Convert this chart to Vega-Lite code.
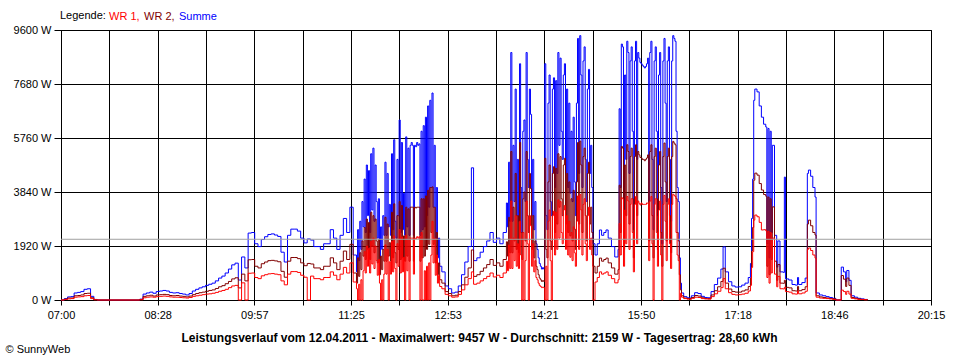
{
"$schema": "https://vega.github.io/schema/vega-lite/v6.json",
"width": 870, "height": 270,
"autosize": {"type": "none"},
"padding": {"left": 61, "top": 30, "right": 29, "bottom": 60},
"background": "white",
"config": {"font": "Liberation Sans", "view": {"stroke": "#000", "strokeWidth": 1}},
"data": {"values": [
{"minute":420,"summe":0,"wr2":0,"wr1":0},
{"minute":423,"summe":50,"wr2":30,"wr1":20},
{"minute":426,"summe":110,"wr2":70,"wr1":40},
{"minute":429,"summe":120,"wr2":70,"wr1":50},
{"minute":432,"summe":250,"wr2":150,"wr1":100},
{"minute":435,"summe":270,"wr2":160,"wr1":110},
{"minute":438,"summe":300,"wr2":180,"wr1":120},
{"minute":441,"summe":380,"wr2":230,"wr1":150},
{"minute":444,"summe":400,"wr2":240,"wr1":160},
{"minute":447,"summe":130,"wr2":80,"wr1":50},
{"minute":450,"summe":20,"wr2":10,"wr1":10},
{"minute":453,"summe":0,"wr2":0,"wr1":0},
{"minute":492,"summe":30,"wr2":20,"wr1":10},
{"minute":495,"summe":210,"wr2":130,"wr1":80},
{"minute":498,"summe":250,"wr2":150,"wr1":100},
{"minute":501,"summe":280,"wr2":170,"wr1":110},
{"minute":504,"summe":240,"wr2":140,"wr1":100},
{"minute":507,"summe":300,"wr2":180,"wr1":120},
{"minute":510,"summe":320,"wr2":190,"wr1":130},
{"minute":513,"summe":340,"wr2":200,"wr1":140},
{"minute":516,"summe":320,"wr2":190,"wr1":130},
{"minute":519,"summe":270,"wr2":160,"wr1":110},
{"minute":522,"summe":250,"wr2":150,"wr1":100},
{"minute":525,"summe":260,"wr2":160,"wr1":100},
{"minute":528,"summe":230,"wr2":140,"wr1":90},
{"minute":531,"summe":210,"wr2":130,"wr1":80},
{"minute":534,"summe":180,"wr2":110,"wr1":70},
{"minute":537,"summe":230,"wr2":140,"wr1":90},
{"minute":540,"summe":320,"wr2":190,"wr1":130},
{"minute":543,"summe":380,"wr2":230,"wr1":150},
{"minute":546,"summe":430,"wr2":260,"wr1":170},
{"minute":549,"summe":470,"wr2":280,"wr1":190},
{"minute":552,"summe":520,"wr2":310,"wr1":210},
{"minute":555,"summe":560,"wr2":340,"wr1":220},
{"minute":558,"summe":600,"wr2":360,"wr1":240},
{"minute":561,"summe":680,"wr2":410,"wr1":270},
{"minute":564,"summe":780,"wr2":470,"wr1":310},
{"minute":567,"summe":850,"wr2":510,"wr1":340},
{"minute":570,"summe":960,"wr2":580,"wr1":380},
{"minute":573,"summe":1100,"wr2":660,"wr1":440},
{"minute":576,"summe":1250,"wr2":750,"wr1":500},
{"minute":579,"summe":1310,"wr2":790,"wr1":520},
{"minute":582,"summe":710,"wr2":430,"wr1":0},
{"minute":585,"summe":1530,"wr2":920,"wr1":610},
{"minute":588,"summe":1140,"wr2":680,"wr1":0},
{"minute":591,"summe":2380,"wr2":1430,"wr1":950},
{"minute":594,"summe":2400,"wr2":1440,"wr1":960},
{"minute":597,"summe":2000,"wr2":1200,"wr1":800},
{"minute":600,"summe":1900,"wr2":1140,"wr1":760},
{"minute":603,"summe":2150,"wr2":1290,"wr1":860},
{"minute":606,"summe":2250,"wr2":1350,"wr1":900},
{"minute":609,"summe":2330,"wr2":1400,"wr1":930},
{"minute":612,"summe":2350,"wr2":1410,"wr1":940},
{"minute":615,"summe":2310,"wr2":1390,"wr1":920},
{"minute":618,"summe":2260,"wr2":1360,"wr1":900},
{"minute":621,"summe":1700,"wr2":1020,"wr1":680},
{"minute":624,"summe":1350,"wr2":810,"wr1":540},
{"minute":627,"summe":2300,"wr2":1380,"wr1":920},
{"minute":630,"summe":2520,"wr2":1510,"wr1":1010},
{"minute":633,"summe":2520,"wr2":1510,"wr1":1010},
{"minute":636,"summe":2450,"wr2":1470,"wr1":980},
{"minute":639,"summe":2200,"wr2":1320,"wr1":880},
{"minute":642,"summe":2030,"wr2":1220,"wr1":810},
{"minute":645,"summe":2170,"wr2":1300,"wr1":0},
{"minute":648,"summe":2130,"wr2":1280,"wr1":850},
{"minute":651,"summe":1900,"wr2":1140,"wr1":760},
{"minute":654,"summe":1900,"wr2":1140,"wr1":760},
{"minute":657,"summe":1800,"wr2":1080,"wr1":720},
{"minute":660,"summe":2000,"wr2":1200,"wr1":800},
{"minute":663,"summe":2000,"wr2":1200,"wr1":800},
{"minute":666,"summe":2500,"wr2":1500,"wr1":1000},
{"minute":669,"summe":2200,"wr2":1320,"wr1":880},
{"minute":672,"summe":1800,"wr2":1080,"wr1":720},
{"minute":675,"summe":2300,"wr2":1380,"wr1":920},
{"minute":678,"summe":2900,"wr2":1740,"wr1":1160},
{"minute":681,"summe":2400,"wr2":1440,"wr1":960},
{"minute":684,"summe":3300,"wr2":1980,"wr1":1320},
{"minute":687,"summe":1600,"wr2":960,"wr1":640},
{"minute":690,"summe":1000,"wr2":600,"wr1":400},
{"minute":691,"summe":2500,"wr2":1500,"wr1":0},
{"minute":692,"summe":1400,"wr2":840,"wr1":560},
{"minute":693,"summe":2800,"wr2":1680,"wr1":0},
{"minute":694,"summe":1800,"wr2":1080,"wr1":720},
{"minute":695,"summe":3500,"wr2":2100,"wr1":0},
{"minute":696,"summe":2600,"wr2":1560,"wr1":1040},
{"minute":697,"summe":4300,"wr2":2580,"wr1":1720},
{"minute":698,"summe":2400,"wr2":1440,"wr1":960},
{"minute":699,"summe":4800,"wr2":2880,"wr1":1920},
{"minute":700,"summe":3000,"wr2":1800,"wr1":1200},
{"minute":701,"summe":4600,"wr2":2760,"wr1":1840},
{"minute":702,"summe":2400,"wr2":1440,"wr1":960},
{"minute":703,"summe":5200,"wr2":3120,"wr1":2080},
{"minute":704,"summe":3200,"wr2":1920,"wr1":1280},
{"minute":705,"summe":5400,"wr2":3000,"wr1":2200},
{"minute":706,"summe":2800,"wr2":1680,"wr1":1120},
{"minute":707,"summe":4800,"wr2":2880,"wr1":1920},
{"minute":708,"summe":3500,"wr2":2100,"wr1":1400},
{"minute":709,"summe":2200,"wr2":1320,"wr1":880},
{"minute":710,"summe":3600,"wr2":2160,"wr1":1440},
{"minute":711,"summe":1500,"wr2":900,"wr1":600},
{"minute":712,"summe":2600,"wr2":1560,"wr1":0},
{"minute":713,"summe":1800,"wr2":1080,"wr1":720},
{"minute":714,"summe":3000,"wr2":1800,"wr1":0},
{"minute":715,"summe":2300,"wr2":1380,"wr1":920},
{"minute":716,"summe":4900,"wr2":2940,"wr1":1960},
{"minute":717,"summe":2300,"wr2":1380,"wr1":920},
{"minute":718,"summe":4500,"wr2":2700,"wr1":1800},
{"minute":719,"summe":2600,"wr2":1560,"wr1":0},
{"minute":720,"summe":3400,"wr2":2040,"wr1":1360},
{"minute":721,"summe":2300,"wr2":1380,"wr1":920},
{"minute":722,"summe":5200,"wr2":3120,"wr1":2080},
{"minute":723,"summe":2500,"wr2":1500,"wr1":1000},
{"minute":724,"summe":5700,"wr2":3420,"wr1":2280},
{"minute":725,"summe":2800,"wr2":1680,"wr1":1120},
{"minute":726,"summe":2200,"wr2":1320,"wr1":0},
{"minute":727,"summe":5000,"wr2":3000,"wr1":2000},
{"minute":728,"summe":3000,"wr2":1800,"wr1":1200},
{"minute":729,"summe":6400,"wr2":3500,"wr1":2500},
{"minute":730,"summe":2400,"wr2":1440,"wr1":960},
{"minute":731,"summe":5600,"wr2":3360,"wr1":2240},
{"minute":732,"summe":2500,"wr2":1500,"wr1":1000},
{"minute":733,"summe":3800,"wr2":2280,"wr1":1520},
{"minute":734,"summe":2300,"wr2":1380,"wr1":0},
{"minute":735,"summe":5800,"wr2":3300,"wr1":2300},
{"minute":736,"summe":2600,"wr2":1560,"wr1":1040},
{"minute":737,"summe":5400,"wr2":3240,"wr1":2160},
{"minute":738,"summe":2300,"wr2":1380,"wr1":0},
{"minute":739,"summe":5500,"wr2":3300,"wr1":2200},
{"minute":740,"summe":5600,"wr2":3300,"wr1":2200},
{"minute":741,"summe":5500,"wr2":3300,"wr1":2200},
{"minute":742,"summe":2300,"wr2":1380,"wr1":920},
{"minute":743,"summe":5500,"wr2":3300,"wr1":2200},
{"minute":744,"summe":5450,"wr2":3270,"wr1":2180},
{"minute":745,"summe":5600,"wr2":3300,"wr1":2250},
{"minute":746,"summe":5500,"wr2":3300,"wr1":2200},
{"minute":747,"summe":5550,"wr2":3300,"wr1":2250},
{"minute":748,"summe":2300,"wr2":1380,"wr1":0},
{"minute":749,"summe":6000,"wr2":3600,"wr1":2400},
{"minute":750,"summe":2500,"wr2":1500,"wr1":0},
{"minute":751,"summe":6200,"wr2":3600,"wr1":0},
{"minute":752,"summe":2600,"wr2":1560,"wr1":1040},
{"minute":753,"summe":6500,"wr2":3700,"wr1":0},
{"minute":754,"summe":3000,"wr2":1800,"wr1":1200},
{"minute":755,"summe":6900,"wr2":3900,"wr1":0},
{"minute":756,"summe":3300,"wr2":1980,"wr1":1320},
{"minute":757,"summe":7100,"wr2":4000,"wr1":0},
{"minute":758,"summe":4000,"wr2":2400,"wr1":1600},
{"minute":759,"summe":7360,"wr2":4020,"wr1":2800},
{"minute":760,"summe":3300,"wr2":1980,"wr1":1320},
{"minute":761,"summe":5500,"wr2":3300,"wr1":2200},
{"minute":762,"summe":2200,"wr2":1320,"wr1":880},
{"minute":763,"summe":4000,"wr2":2400,"wr1":1600},
{"minute":764,"summe":1500,"wr2":900,"wr1":600},
{"minute":765,"summe":2200,"wr2":1320,"wr1":880},
{"minute":766,"summe":1200,"wr2":720,"wr1":480},
{"minute":768,"summe":1000,"wr2":600,"wr1":400},
{"minute":771,"summe":500,"wr2":300,"wr1":200},
{"minute":774,"summe":400,"wr2":230,"wr1":150},
{"minute":777,"summe":250,"wr2":150,"wr1":100},
{"minute":780,"summe":280,"wr2":170,"wr1":110},
{"minute":783,"summe":500,"wr2":300,"wr1":200},
{"minute":786,"summe":900,"wr2":540,"wr1":360},
{"minute":789,"summe":1350,"wr2":810,"wr1":540},
{"minute":792,"summe":1900,"wr2":1140,"wr1":760},
{"minute":795,"summe":4700,"wr2":1780,"wr1":1000},
{"minute":797,"summe":1400,"wr2":840,"wr1":560},
{"minute":800,"summe":1500,"wr2":900,"wr1":600},
{"minute":803,"summe":1700,"wr2":1020,"wr1":680},
{"minute":806,"summe":1900,"wr2":1140,"wr1":760},
{"minute":809,"summe":2100,"wr2":1260,"wr1":840},
{"minute":812,"summe":2400,"wr2":1440,"wr1":960},
{"minute":815,"summe":2050,"wr2":1230,"wr1":820},
{"minute":818,"summe":2200,"wr2":1320,"wr1":880},
{"minute":821,"summe":2000,"wr2":1200,"wr1":800},
{"minute":824,"summe":2400,"wr2":1440,"wr1":960},
{"minute":827,"summe":3450,"wr2":2070,"wr1":1380},
{"minute":828,"summe":2600,"wr2":1560,"wr1":1040},
{"minute":829,"summe":4900,"wr2":2940,"wr1":1960},
{"minute":830,"summe":2800,"wr2":1680,"wr1":1120},
{"minute":831,"summe":8800,"wr2":5280,"wr1":3520},
{"minute":832,"summe":2800,"wr2":1680,"wr1":1120},
{"minute":833,"summe":5500,"wr2":3300,"wr1":2200},
{"minute":834,"summe":3500,"wr2":2100,"wr1":1400},
{"minute":835,"summe":7500,"wr2":4500,"wr1":3000},
{"minute":836,"summe":3000,"wr2":1800,"wr1":1200},
{"minute":837,"summe":5000,"wr2":3000,"wr1":2000},
{"minute":838,"summe":2800,"wr2":1680,"wr1":1120},
{"minute":839,"summe":8400,"wr2":5600,"wr1":2800},
{"minute":840,"summe":4000,"wr2":2400,"wr1":1600},
{"minute":841,"summe":2400,"wr2":1440,"wr1":0},
{"minute":842,"summe":6000,"wr2":3600,"wr1":2400},
{"minute":843,"summe":6400,"wr2":3840,"wr1":0},
{"minute":844,"summe":3500,"wr2":2100,"wr1":1400},
{"minute":845,"summe":8800,"wr2":5280,"wr1":3520},
{"minute":846,"summe":5000,"wr2":3000,"wr1":2000},
{"minute":847,"summe":4000,"wr2":2400,"wr1":0},
{"minute":848,"summe":7500,"wr2":4500,"wr1":3000},
{"minute":849,"summe":6600,"wr2":3960,"wr1":2640},
{"minute":850,"summe":3000,"wr2":1800,"wr1":1200},
{"minute":851,"summe":5000,"wr2":3000,"wr1":2000},
{"minute":852,"summe":2500,"wr2":1500,"wr1":1000},
{"minute":853,"summe":3500,"wr2":2100,"wr1":1400},
{"minute":854,"summe":2000,"wr2":1200,"wr1":800},
{"minute":855,"summe":1800,"wr2":1080,"wr1":720},
{"minute":856,"summe":1500,"wr2":900,"wr1":600},
{"minute":857,"summe":1300,"wr2":780,"wr1":520},
{"minute":858,"summe":1200,"wr2":720,"wr1":480},
{"minute":859,"summe":1100,"wr2":660,"wr1":440},
{"minute":860,"summe":1150,"wr2":690,"wr1":460},
{"minute":861,"summe":1100,"wr2":660,"wr1":440},
{"minute":862,"summe":8400,"wr2":5040,"wr1":0},
{"minute":863,"summe":3000,"wr2":1800,"wr1":1200},
{"minute":864,"summe":2500,"wr2":1500,"wr1":0},
{"minute":865,"summe":7000,"wr2":4200,"wr1":2800},
{"minute":866,"summe":8000,"wr2":4800,"wr1":3200},
{"minute":867,"summe":3500,"wr2":2100,"wr1":1400},
{"minute":868,"summe":3000,"wr2":1800,"wr1":0},
{"minute":869,"summe":7500,"wr2":4500,"wr1":3000},
{"minute":870,"summe":7900,"wr2":4740,"wr1":3160},
{"minute":871,"summe":4000,"wr2":2400,"wr1":1600},
{"minute":872,"summe":7800,"wr2":4680,"wr1":3120},
{"minute":873,"summe":4500,"wr2":2700,"wr1":1800},
{"minute":874,"summe":8800,"wr2":5200,"wr1":3560},
{"minute":875,"summe":5500,"wr2":3300,"wr1":2200},
{"minute":876,"summe":8600,"wr2":5100,"wr1":3500},
{"minute":877,"summe":6000,"wr2":3600,"wr1":2400},
{"minute":878,"summe":5000,"wr2":3000,"wr1":2000},
{"minute":879,"summe":8000,"wr2":4800,"wr1":3200},
{"minute":880,"summe":8400,"wr2":5040,"wr1":3360},
{"minute":881,"summe":4500,"wr2":2700,"wr1":1800},
{"minute":882,"summe":7500,"wr2":4500,"wr1":3000},
{"minute":883,"summe":4000,"wr2":2400,"wr1":1600},
{"minute":884,"summe":7000,"wr2":4200,"wr1":2800},
{"minute":885,"summe":3800,"wr2":2280,"wr1":1520},
{"minute":886,"summe":6000,"wr2":3600,"wr1":2400},
{"minute":887,"summe":3500,"wr2":2100,"wr1":1400},
{"minute":888,"summe":6500,"wr2":3900,"wr1":2600},
{"minute":889,"summe":4200,"wr2":2520,"wr1":1680},
{"minute":890,"summe":3000,"wr2":1800,"wr1":1200},
{"minute":891,"summe":7000,"wr2":4200,"wr1":2800},
{"minute":892,"summe":9300,"wr2":5600,"wr1":3700},
{"minute":893,"summe":4500,"wr2":2700,"wr1":1800},
{"minute":894,"summe":9400,"wr2":5650,"wr1":3750},
{"minute":895,"summe":8000,"wr2":4800,"wr1":3200},
{"minute":896,"summe":4000,"wr2":2400,"wr1":1600},
{"minute":897,"summe":8500,"wr2":5100,"wr1":3400},
{"minute":898,"summe":9000,"wr2":5400,"wr1":3600},
{"minute":899,"summe":5000,"wr2":3000,"wr1":2000},
{"minute":900,"summe":3500,"wr2":2100,"wr1":1400},
{"minute":901,"summe":7500,"wr2":4500,"wr1":3000},
{"minute":902,"summe":8200,"wr2":4900,"wr1":3300},
{"minute":903,"summe":4500,"wr2":2700,"wr1":1800},
{"minute":904,"summe":5500,"wr2":3300,"wr1":2200},
{"minute":905,"summe":4000,"wr2":2400,"wr1":1600},
{"minute":906,"summe":2000,"wr2":1200,"wr1":0},
{"minute":908,"summe":1600,"wr2":960,"wr1":640},
{"minute":910,"summe":2000,"wr2":1200,"wr1":800},
{"minute":912,"summe":2490,"wr2":1490,"wr1":1000},
{"minute":914,"summe":2300,"wr2":1380,"wr1":920},
{"minute":916,"summe":2400,"wr2":1440,"wr1":960},
{"minute":918,"summe":2490,"wr2":1490,"wr1":1000},
{"minute":920,"summe":2200,"wr2":1320,"wr1":880},
{"minute":923,"summe":1900,"wr2":1140,"wr1":760},
{"minute":926,"summe":1530,"wr2":920,"wr1":610},
{"minute":929,"summe":1800,"wr2":1080,"wr1":720},
{"minute":930,"summe":6800,"wr2":4080,"wr1":2720},
{"minute":931,"summe":4000,"wr2":2400,"wr1":1600},
{"minute":932,"summe":9100,"wr2":5460,"wr1":3640},
{"minute":933,"summe":9000,"wr2":5400,"wr1":3600},
{"minute":934,"summe":3000,"wr2":1800,"wr1":1200},
{"minute":935,"summe":8000,"wr2":4800,"wr1":3200},
{"minute":936,"summe":5000,"wr2":3000,"wr1":2000},
{"minute":937,"summe":9200,"wr2":5520,"wr1":3680},
{"minute":938,"summe":8800,"wr2":5280,"wr1":3520},
{"minute":939,"summe":4500,"wr2":2700,"wr1":1800},
{"minute":940,"summe":8500,"wr2":5100,"wr1":3400},
{"minute":941,"summe":9000,"wr2":5400,"wr1":3600},
{"minute":942,"summe":6000,"wr2":3600,"wr1":2400},
{"minute":943,"summe":2500,"wr2":1500,"wr1":1000},
{"minute":944,"summe":8500,"wr2":5100,"wr1":3400},
{"minute":945,"summe":9200,"wr2":5520,"wr1":3680},
{"minute":946,"summe":5000,"wr2":3000,"wr1":2000},
{"minute":947,"summe":8800,"wr2":5280,"wr1":3520},
{"minute":948,"summe":8600,"wr2":5160,"wr1":3440},
{"minute":949,"summe":8450,"wr2":5070,"wr1":3380},
{"minute":950,"summe":8400,"wr2":5050,"wr1":3450},
{"minute":951,"summe":8350,"wr2":5000,"wr1":3400},
{"minute":952,"summe":8300,"wr2":5000,"wr1":3400},
{"minute":953,"summe":8250,"wr2":4950,"wr1":3400},
{"minute":954,"summe":8300,"wr2":5000,"wr1":3400},
{"minute":955,"summe":8400,"wr2":5050,"wr1":3450},
{"minute":956,"summe":8600,"wr2":5160,"wr1":3440},
{"minute":957,"summe":3500,"wr2":2100,"wr1":1400},
{"minute":958,"summe":8800,"wr2":5280,"wr1":3520},
{"minute":959,"summe":9200,"wr2":5520,"wr1":3680},
{"minute":960,"summe":5000,"wr2":3000,"wr1":2000},
{"minute":961,"summe":2500,"wr2":1500,"wr1":0},
{"minute":962,"summe":8500,"wr2":5100,"wr1":3400},
{"minute":963,"summe":9000,"wr2":5400,"wr1":3600},
{"minute":964,"summe":6000,"wr2":3600,"wr1":2400},
{"minute":965,"summe":3000,"wr2":1800,"wr1":1200},
{"minute":966,"summe":8000,"wr2":4800,"wr1":3200},
{"minute":967,"summe":8800,"wr2":5280,"wr1":3520},
{"minute":968,"summe":4000,"wr2":2400,"wr1":1600},
{"minute":969,"summe":2000,"wr2":1200,"wr1":0},
{"minute":970,"summe":8500,"wr2":5100,"wr1":3400},
{"minute":971,"summe":9300,"wr2":5580,"wr1":3720},
{"minute":972,"summe":7000,"wr2":4200,"wr1":2800},
{"minute":973,"summe":3500,"wr2":2100,"wr1":1400},
{"minute":974,"summe":8500,"wr2":5100,"wr1":3400},
{"minute":975,"summe":9000,"wr2":5400,"wr1":3600},
{"minute":976,"summe":5000,"wr2":3000,"wr1":2000},
{"minute":977,"summe":2800,"wr2":1680,"wr1":1120},
{"minute":978,"summe":8500,"wr2":5100,"wr1":3400},
{"minute":979,"summe":9400,"wr2":5640,"wr1":3760},
{"minute":980,"summe":9300,"wr2":5580,"wr1":3720},
{"minute":981,"summe":9200,"wr2":5520,"wr1":3680},
{"minute":982,"summe":6000,"wr2":3600,"wr1":2400},
{"minute":983,"summe":4000,"wr2":2400,"wr1":1600},
{"minute":984,"summe":3500,"wr2":2100,"wr1":1400},
{"minute":985,"summe":1500,"wr2":900,"wr1":0},
{"minute":986,"summe":600,"wr2":360,"wr1":240},
{"minute":987,"summe":250,"wr2":150,"wr1":100},
{"minute":989,"summe":120,"wr2":70,"wr1":50},
{"minute":992,"summe":80,"wr2":50,"wr1":30},
{"minute":995,"summe":60,"wr2":40,"wr1":20},
{"minute":996,"summe":150,"wr2":90,"wr1":60},
{"minute":999,"summe":260,"wr2":160,"wr1":100},
{"minute":1002,"summe":230,"wr2":140,"wr1":90},
{"minute":1005,"summe":130,"wr2":80,"wr1":50},
{"minute":1008,"summe":90,"wr2":50,"wr1":40},
{"minute":1011,"summe":80,"wr2":50,"wr1":30},
{"minute":1014,"summe":300,"wr2":180,"wr1":120},
{"minute":1017,"summe":550,"wr2":330,"wr1":220},
{"minute":1020,"summe":780,"wr2":470,"wr1":310},
{"minute":1023,"summe":1100,"wr2":660,"wr1":440},
{"minute":1025,"summe":1890,"wr2":1130,"wr1":760},
{"minute":1027,"summe":1000,"wr2":600,"wr1":400},
{"minute":1030,"summe":650,"wr2":390,"wr1":260},
{"minute":1033,"summe":500,"wr2":300,"wr1":200},
{"minute":1036,"summe":460,"wr2":280,"wr1":180},
{"minute":1039,"summe":470,"wr2":280,"wr1":190},
{"minute":1042,"summe":530,"wr2":320,"wr1":210},
{"minute":1045,"summe":600,"wr2":360,"wr1":240},
{"minute":1048,"summe":800,"wr2":480,"wr1":320},
{"minute":1050,"summe":1300,"wr2":780,"wr1":520},
{"minute":1051,"summe":2900,"wr2":1740,"wr1":1160},
{"minute":1052,"summe":4300,"wr2":2580,"wr1":1720},
{"minute":1053,"summe":7100,"wr2":4260,"wr1":2840},
{"minute":1054,"summe":7500,"wr2":4510,"wr1":3020},
{"minute":1056,"summe":7400,"wr2":4440,"wr1":2960},
{"minute":1058,"summe":6900,"wr2":4140,"wr1":2760},
{"minute":1060,"summe":6500,"wr2":3910,"wr1":2490},
{"minute":1062,"summe":6250,"wr2":3750,"wr1":2500},
{"minute":1064,"summe":6150,"wr2":3690,"wr1":2460},
{"minute":1065,"summe":2000,"wr2":1200,"wr1":800},
{"minute":1066,"summe":6100,"wr2":3660,"wr1":2440},
{"minute":1067,"summe":1500,"wr2":900,"wr1":600},
{"minute":1068,"summe":6000,"wr2":3600,"wr1":2400},
{"minute":1069,"summe":2400,"wr2":1440,"wr1":960},
{"minute":1070,"summe":5500,"wr2":3310,"wr1":2200},
{"minute":1072,"summe":2300,"wr2":1380,"wr1":920},
{"minute":1074,"summe":1170,"wr2":700,"wr1":470},
{"minute":1075,"summe":2100,"wr2":1260,"wr1":840},
{"minute":1077,"summe":1000,"wr2":600,"wr1":400},
{"minute":1080,"summe":980,"wr2":590,"wr1":390},
{"minute":1081,"summe":4370,"wr2":700,"wr1":450},
{"minute":1082,"summe":750,"wr2":450,"wr1":300},
{"minute":1085,"summe":710,"wr2":430,"wr1":280},
{"minute":1088,"summe":550,"wr2":330,"wr1":220},
{"minute":1091,"summe":530,"wr2":320,"wr1":210},
{"minute":1093,"summe":800,"wr2":480,"wr1":320},
{"minute":1094,"summe":550,"wr2":330,"wr1":220},
{"minute":1097,"summe":620,"wr2":370,"wr1":250},
{"minute":1100,"summe":780,"wr2":470,"wr1":310},
{"minute":1102,"summe":4500,"wr2":2700,"wr1":1800},
{"minute":1103,"summe":4620,"wr2":2840,"wr1":1850},
{"minute":1105,"summe":4400,"wr2":2640,"wr1":1760},
{"minute":1107,"summe":4000,"wr2":2400,"wr1":1600},
{"minute":1109,"summe":3660,"wr2":2310,"wr1":1490},
{"minute":1110,"summe":250,"wr2":150,"wr1":100},
{"minute":1113,"summe":180,"wr2":110,"wr1":70},
{"minute":1116,"summe":150,"wr2":90,"wr1":60},
{"minute":1119,"summe":120,"wr2":70,"wr1":50},
{"minute":1122,"summe":90,"wr2":50,"wr1":40},
{"minute":1125,"summe":60,"wr2":40,"wr1":20},
{"minute":1128,"summe":0,"wr2":0,"wr1":0},
{"minute":1133,"summe":1170,"wr2":870,"wr1":350},
{"minute":1135,"summe":1000,"wr2":740,"wr1":300},
{"minute":1137,"summe":650,"wr2":480,"wr1":200},
{"minute":1138,"summe":1050,"wr2":780,"wr1":310},
{"minute":1140,"summe":700,"wr2":520,"wr1":210},
{"minute":1142,"summe":150,"wr2":90,"wr1":60},
{"minute":1145,"summe":100,"wr2":60,"wr1":40},
{"minute":1148,"summe":60,"wr2":40,"wr1":20},
{"minute":1151,"summe":40,"wr2":20,"wr1":20},
{"minute":1154,"summe":20,"wr2":10,"wr1":10},
{"minute":1157,"summe":0,"wr2":0,"wr1":0}
]},
"layer": [
{"mark": {"type": "line", "interpolate": "step-after", "strokeWidth": 1},
 "encoding": {
  "x": {"field": "minute", "type": "quantitative", "scale": {"domain": [420, 1215], "nice": false, "zero": false},
    "title": "Leistungsverlauf vom 12.04.2011 - Maximalwert: 9457 W - Durchschnitt: 2159 W - Tagesertrag: 28,60 kWh",
    "axis": {"values": [420,464.1667,508.3333,552.5,596.6667,640.8333,685,729.1667,773.3333,817.5,861.6667,905.8333,950,994.1667,1038.3333,1082.5,1126.6667,1170.8333,1215],
      "labelExpr": "['07:00','','08:28','','09:57','','11:25','','12:53','','14:21','','15:50','','17:18','','18:46','','20:15'][round((datum.value-420)/44.16667)]",
      "grid": true, "gridColor": "#000", "gridOpacity": 1, "gridWidth": 1,
      "domainColor": "#000", "tickColor": "#000", "tickSize": 5,
      "labelFontSize": 11, "labelColor": "#000", "labelPadding": 4, "labelFlush": false, "labelOverlap": false,
      "titleFontSize": 12, "titleFontWeight": "bold", "titleColor": "#000", "titleX": 418, "titleY": 41, "titleAlign": "center", "titleBaseline": "alphabetic"}},
  "y": {"field": "summe", "type": "quantitative", "scale": {"domain": [0, 9600], "nice": false},
    "title": "© SunnyWeb",
    "axis": {"values": [0,1920,3840,5760,7680,9600], "labelExpr": "datum.value + ' W'",
      "grid": true, "gridColor": "#000", "gridOpacity": 1, "gridWidth": 1,
      "domainColor": "#000", "tickColor": "#000", "tickSize": 7,
      "labelFontSize": 11, "labelColor": "#000", "labelPadding": 3,
      "titleAngle": 0, "titleFontSize": 11, "titleFontWeight": "normal", "titleColor": "#000",
      "titleX": -56, "titleY": 322, "titleAlign": "left", "titleBaseline": "alphabetic"}},
  "color": {"datum": "Summe", "type": "nominal",
    "scale": {"domain": ["WR 1", "WR 2", "Summe"], "range": ["#ff0000", "#800000", "#0000ff"]},
    "legend": {"orient": "none", "legendX": -1, "legendY": -19, "direction": "horizontal", "gridAlign": "none",
      "title": "Legende:", "titleOrient": "left", "titleFontSize": 11, "titleFontWeight": "normal", "titleColor": "#000", "titlePadding": 3,
      "labelFontSize": 11, "labelOffset": -11, "symbolSize": 0, "symbolStrokeWidth": 0, "symbolOpacity": 0, "columnPadding": 4, "padding": 0,
      "labelExpr": "datum.label == 'Summe' ? datum.label : datum.label + ','",
      "encode": {"labels": {"update": {"fill": {"scale": "color", "field": "value"}}}}}}
 }},
{"mark": {"type": "line", "interpolate": "step-after", "strokeWidth": 1},
 "encoding": {
  "x": {"field": "minute", "type": "quantitative", "title": "Leistungsverlauf vom 12.04.2011 - Maximalwert: 9457 W - Durchschnitt: 2159 W - Tagesertrag: 28,60 kWh"},
  "y": {"field": "wr2", "type": "quantitative", "title": "© SunnyWeb"},
  "color": {"datum": "WR 2", "type": "nominal"}
 }},
{"mark": {"type": "line", "interpolate": "step-after", "strokeWidth": 1},
 "encoding": {
  "x": {"field": "minute", "type": "quantitative", "title": "Leistungsverlauf vom 12.04.2011 - Maximalwert: 9457 W - Durchschnitt: 2159 W - Tagesertrag: 28,60 kWh"},
  "y": {"field": "wr1", "type": "quantitative", "title": "© SunnyWeb"},
  "color": {"datum": "WR 1", "type": "nominal"}
 }},
{"data": {"values": [{"durchschnitt": 2159}]},
 "mark": {"type": "rule", "color": "#a0a0a0", "strokeWidth": 1},
 "encoding": {"y": {"field": "durchschnitt", "type": "quantitative", "title": "© SunnyWeb"}}}
]
}
